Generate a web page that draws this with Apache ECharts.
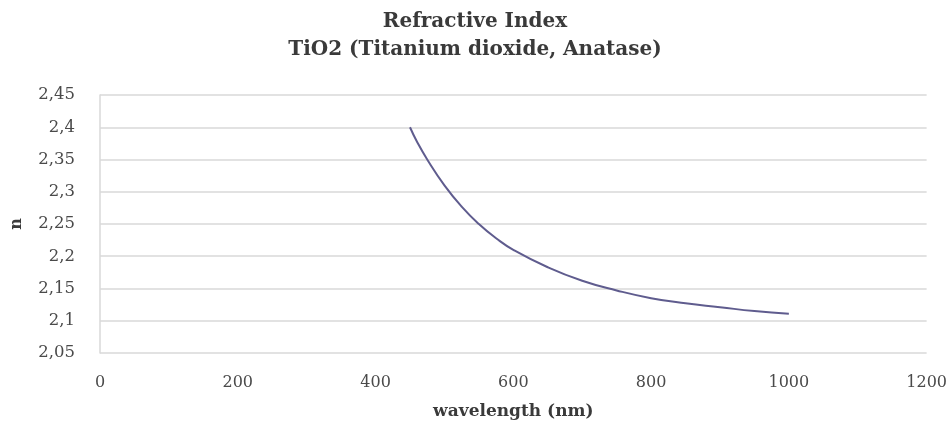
<!DOCTYPE html>
<html><head><meta charset="utf-8">
<script src="https://cdn.jsdelivr.net/npm/echarts@6/dist/echarts.min.js"></script>
<style>html,body{margin:0;padding:0;background:#fff}#c{width:950px;height:432px}</style>
</head><body><div id="c"></div>
<script>
const titleLines = ["Refractive Index", "TiO2 (Titanium dioxide, Anatase)"];
const xName = "wavelength (nm)";
const yName = "n";
const wavelength = [450, 460, 475, 500, 525, 550, 575, 600, 650, 700, 750, 800, 850, 900, 950, 1000];
const nValues   = [2.400, 2.378, 2.350, 2.310, 2.277, 2.250, 2.228, 2.210, 2.183, 2.162, 2.147, 2.135, 2.127, 2.121, 2.115, 2.111];
const xTicks = {min: 0, max: 1200, interval: 200};
const yTicks = {min: 2.05, max: 2.45, interval: 0.05};

const serif = '"DejaVu Serif", "Liberation Serif", serif';
const chart = echarts.init(document.getElementById('c'));
chart.setOption({
  animation: false,
  backgroundColor: '#fff',
  title: {
    text: titleLines.join('\n'),
    left: 'center', top: 3,
    textStyle: {fontFamily: serif, fontWeight: 'bold', fontSize: 20, color: '#3a3a3a', lineHeight: 28}
  },
  grid: {left: 100, right: 22, top: 95, bottom: 79},
  xAxis: {
    type: 'value', min: xTicks.min, max: xTicks.max, interval: xTicks.interval,
    name: xName, nameLocation: 'middle', nameGap: 50,
    nameTextStyle: {fontFamily: serif, fontWeight: 'bold', fontSize: 17, color: '#3a3a3a'},
    axisLine: {show: false}, axisTick: {show: false},
    splitLine: {show: false},
    axisLabel: {fontFamily: serif, fontSize: 16, color: '#4a4a4a', margin: 22,
      formatter: v => String(v)}
  },
  yAxis: {
    type: 'value', min: yTicks.min, max: yTicks.max, interval: yTicks.interval,
    name: yName, nameLocation: 'middle', nameGap: 75, nameRotate: 90,
    nameTextStyle: {fontFamily: serif, fontWeight: 'bold', fontSize: 16, color: '#3a3a3a'},
    axisLine: {show: true, lineStyle: {color: '#d9d9d9', width: 1.5}}, axisTick: {show: false},
    splitLine: {show: true, lineStyle: {color: '#d9d9d9', width: 1.5}},
    axisLabel: {fontFamily: serif, fontSize: 16.5, color: '#4a4a4a', margin: 25,
      formatter: v => String(parseFloat(v.toFixed(2))).replace('.', ',')}
  },
  series: [{
    type: 'line', smooth: true, showSymbol: false,
    data: wavelength.map((w, i) => [w, nValues[i]]),
    lineStyle: {color: '#5f5c8e', width: 2}
  }]
});
</script></body></html>
